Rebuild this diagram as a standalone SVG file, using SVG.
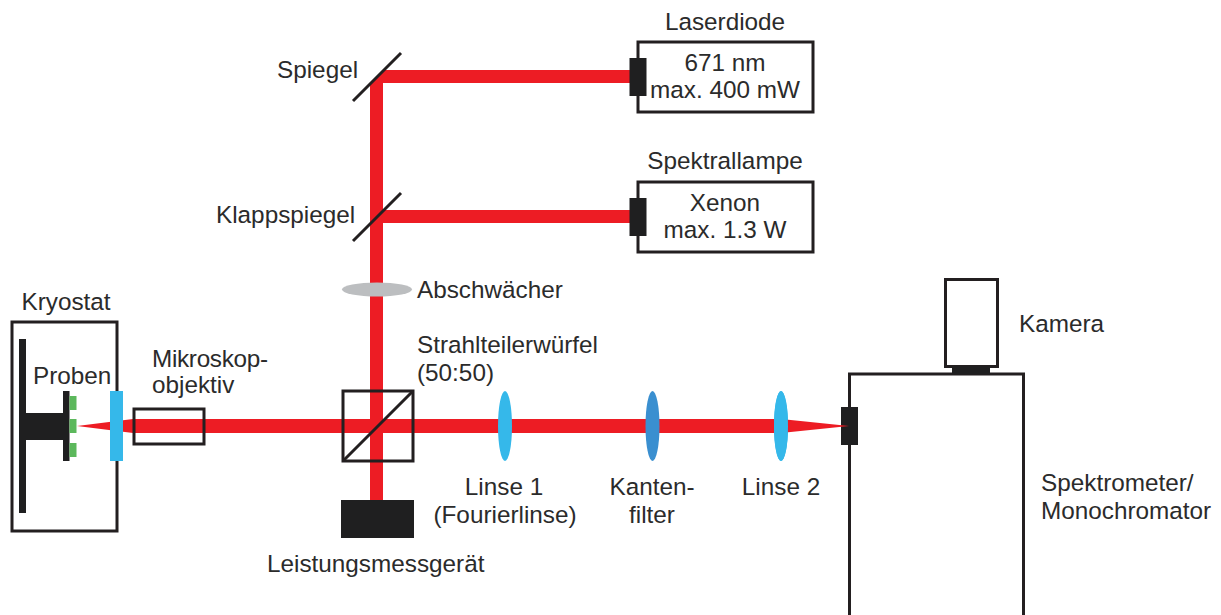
<svg xmlns="http://www.w3.org/2000/svg" width="1221" height="615" viewBox="0 0 1221 615">
<style>
text{font-family:"Liberation Sans",Arial,sans-serif;font-size:24.300px;fill:#2b2b2b}
.m{text-anchor:middle}
.box{fill:#fff;stroke:#231f20;stroke-width:3}
.thin{fill:none;stroke:#231f20;stroke-width:3}
.blk{fill:#1f1f20}
.beam{fill:#ed1c24}
.lens{fill:#35b8ea}
</style>
<rect width="1221" height="615" fill="#fff"/>
<g id="kryostat"><rect class="box" x="12" y="322" width="105" height="209"/><rect class="blk" x="19" y="339" width="7" height="174"/><rect class="blk" x="26" y="413" width="38" height="27"/><rect class="blk" x="63" y="391" width="6.500" height="70"/><text class="m" x="66" y="310">Kryostat</text></g>
<g id="proben"><rect x="69.500" y="396" width="7" height="14" fill="#5cb85c"/><rect x="69.500" y="419" width="7" height="14" fill="#5cb85c"/><rect x="69.500" y="443" width="7" height="14" fill="#5cb85c"/><text x="33" y="384">Proben</text></g>
<g id="connectors">
<path class="beam" d="M370 83L383 70V500H370Z"/>
<path class="beam" d="M370 83L383 70H632V83Z"/>
<rect class="beam" x="383" y="210" width="249" height="13"/>
<path class="beam" d="M77 426L133 419H781V433H133Z"/>
</g>
<g id="fenster"><rect x="110" y="391" width="13" height="70" fill="#35b8ea"/></g>
<g id="objektiv"><rect class="thin" x="134" y="409" width="70" height="35"/><text x="152" y="367" textLength="116">Mikroskop-</text><text x="152" y="393">objektiv</text></g>
<g id="spiegel"><line class="thin" x1="353" y1="101" x2="401" y2="53"/><text x="277" y="78">Spiegel</text></g>
<g id="klappspiegel"><line class="thin" x1="353" y1="241" x2="401" y2="193"/><text x="216" y="223">Klappspiegel</text></g>
<g id="abschwaecher"><ellipse cx="377" cy="289.500" rx="35" ry="7" fill="#bcbec0"/><text x="417" y="298">Abschwächer</text></g>
<g id="strahlteiler"><rect class="thin" x="343" y="391" width="70" height="70"/><line class="thin" x1="343" y1="461" x2="413" y2="391"/><text x="417" y="353">Strahlteilerwürfel</text><text x="417" y="381">(50:50)</text></g>
<g id="leistungsmessgeraet"><rect class="blk" x="341" y="500" width="73" height="38"/><text x="267" y="572">Leistungsmessgerät</text></g>
<g id="linse1"><ellipse class="lens" cx="505" cy="426" rx="7" ry="35"/><text class="m" x="504" y="495">Linse 1</text><text class="m" x="505" y="523">(Fourierlinse)</text></g>
<g id="kantenfilter"><ellipse cx="652.500" cy="426" rx="7" ry="35" fill="#3a8fd0"/><text class="m" x="652" y="495">Kanten-</text><text class="m" x="652" y="523">filter</text></g>
<g id="linse2"><ellipse class="lens" cx="781" cy="426" rx="7" ry="35"/><text class="m" x="781" y="495">Linse 2</text></g>
<g id="laserdiode"><rect class="box" x="638" y="42" width="175" height="70"/><rect class="blk" x="629.500" y="58" width="17" height="38"/><text class="m" x="725" y="30">Laserdiode</text><text class="m" x="725" y="71">671 nm</text><text class="m" x="725" y="98">max. 400 mW</text></g>
<g id="spektrallampe"><rect class="box" x="638" y="182" width="175" height="70"/><rect class="blk" x="629.500" y="198" width="17" height="38"/><text class="m" x="725" y="169">Spektrallampe</text><text class="m" x="725" y="211">Xenon</text><text class="m" x="725" y="238">max. 1.3 W</text></g>
<g id="spektrometer"><path class="thin" d="M849.500 615V374H1023.500V615"/><rect class="blk" x="841" y="407" width="17" height="38"/><path class="beam" d="M781 419L849 426L781 433Z"/><ellipse class="lens" cx="781" cy="426" rx="7" ry="35"/><text x="1041" y="491">Spektrometer/</text><text x="1041" y="519">Monochromator</text></g>
<g id="kamera"><rect class="box" x="945.500" y="279.500" width="52" height="87"/><rect class="blk" x="952" y="366" width="38" height="8"/><text x="1019" y="332">Kamera</text></g>
</svg>
